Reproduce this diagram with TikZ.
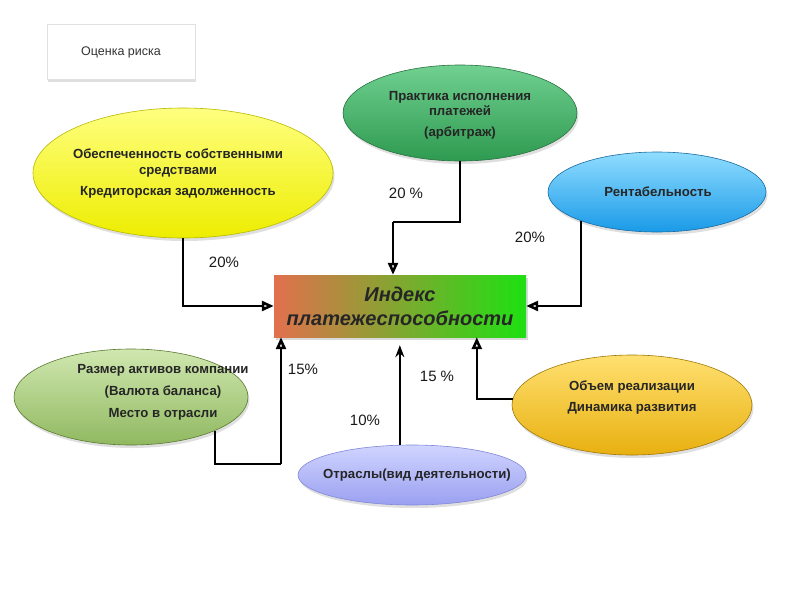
\documentclass[tikz,border=0pt]{standalone}
\usepackage{fontspec}
\setmainfont{Liberation Sans}
\usetikzlibrary{shapes.geometric,shadows,arrows.meta,calc}
\definecolor{ylA}{HTML}{FFFF80}\definecolor{ylB}{HTML}{EDED00}\definecolor{ylD}{HTML}{B8B800}
\definecolor{gnA}{HTML}{70D090}\definecolor{gnB}{HTML}{2E9A50}\definecolor{gnD}{HTML}{2A7040}
\definecolor{blA}{HTML}{90DDFF}\definecolor{blB}{HTML}{1A9AE8}\definecolor{blD}{HTML}{1A6AA0}
\definecolor{olA}{HTML}{D0E8B0}\definecolor{olB}{HTML}{90B860}\definecolor{olD}{HTML}{5A7A30}
\definecolor{orA}{HTML}{FFE070}\definecolor{orB}{HTML}{E8B010}\definecolor{orD}{HTML}{A07808}
\definecolor{puA}{HTML}{D0D4FF}\definecolor{puB}{HTML}{9AA0F0}\definecolor{puD}{HTML}{8088D8}
\definecolor{idxL}{HTML}{E2704E}\definecolor{idxR}{HTML}{1EE012}
\tikzset{
  ell/.style={ellipse, inner sep=0pt, line width=0.6pt,
    drop shadow={opacity=0.25, shadow xshift=1.5pt, shadow yshift=-3pt}},
  etext/.style={align=center, font=\fontsize{13.2}{15.5}\selectfont\bfseries, text=black!85},
  pct/.style={font=\fontsize{15}{17}\selectfont, text=black!90},
  conn/.style={line width=1.7pt, -{Triangle[open, length=12pt, width=10pt, line width=2.6pt]}},
  solidconn/.style={line width=1.7pt, -{Stealth[length=12pt, width=9pt]}},
  plain/.style={line width=1.7pt}
}
\begin{document}
\begin{tikzpicture}[x=1pt,y=-1pt]
\useasboundingbox (0,0) rectangle (800,600);
% Risk box
\node[fill=white, draw=black!12, line width=0.5pt, minimum width=148pt, minimum height=55pt,
  drop shadow={opacity=0.25, shadow xshift=1pt, shadow yshift=-2pt},
  font=\fontsize{12.5}{14}\selectfont, text=black!80] (risk) at (121,52) {Оценка риска};
% central index box
\node[left color=idxL, right color=idxR, minimum width=252pt, minimum height=62pt,
  drop shadow={opacity=0.3, shadow xshift=1.5pt, shadow yshift=-2.5pt},
  align=center, font=\fontsize{20}{24}\selectfont\bfseries\itshape, text=black!85]
  (idx) at (400,306) {Индекс\\платежеспособности};
% ellipses
\node[ell, draw=ylD, top color=ylA, bottom color=ylB, minimum width=300pt, minimum height=130pt] (yel) at (183,173) {};
\node[etext] (yelt) at (178,174) {Обеспеченность собственными\\средствами\\[6pt]Кредиторская задолженность};
\node[ell, draw=gnD, top color=gnA, bottom color=gnB, minimum width=234pt, minimum height=96pt] (grn) at (460,113) {};
\node[etext] (grnt) at (460,115) {Практика исполнения\\платежей\\[5pt](арбитраж)};
\node[ell, draw=blD, top color=blA, bottom color=blB, minimum width=218pt, minimum height=80pt] (blu) at (657,192) {};
\node[etext] (blut) at (658,192) {Рентабельность};
\node[ell, draw=olD, top color=olA, bottom color=olB, minimum width=234pt, minimum height=96pt] (siz) at (131,397) {};
\node[etext, font=\fontsize{13.2}{22}\selectfont\bfseries] (sizt) at (163,392) {Размер активов компании\\(Валюта баланса)\\Место в отрасли};
\node[ell, draw=orD, top color=orA, bottom color=orB, minimum width=240pt, minimum height=100pt] (ora) at (632,405) {};
\node[etext, font=\fontsize{13.2}{21}\selectfont\bfseries] (orat) at (632,398) {Объем реализации\\Динамика развития};
\node[ell, draw=puD, top color=puA, bottom color=puB, minimum width=228pt, minimum height=60pt] (pur) at (412,475) {};
\node[etext] (purt) at (417,475) {Отраслы(вид деятельности)};
% connectors
\draw[conn] (yel.south) |- (idx.west);
\coordinate (c2) at (393,222);
\draw[plain] (grn.south) |- (c2);
\draw[conn] (c2) -- (c2 |- idx.north);
\draw[conn] (blu.201) |- (idx.east);
\coordinate (c4) at (281,464);
\draw[plain] (siz.338) |- (c4);
\draw[conn] (c4) -- (c4 |- idx.south);
\draw[conn] (ora.177) -| ($(idx.south west)+(203,0)$);
\draw[solidconn, shorten >=8pt] (pur.112) -- (pur.112 |- idx.south);
% percentages
\node[pct] (p1) at (224,262) {20\%};
\node[pct] (p2) at (406,193) {20 \%};
\node[pct] (p3) at (530,237) {20\%};
\node[pct] (p4) at (303,369) {15\%};
\node[pct] (p5) at (437,376) {15 \%};
\node[pct] (p6) at (365,420) {10\%};
\end{tikzpicture}
\end{document}
